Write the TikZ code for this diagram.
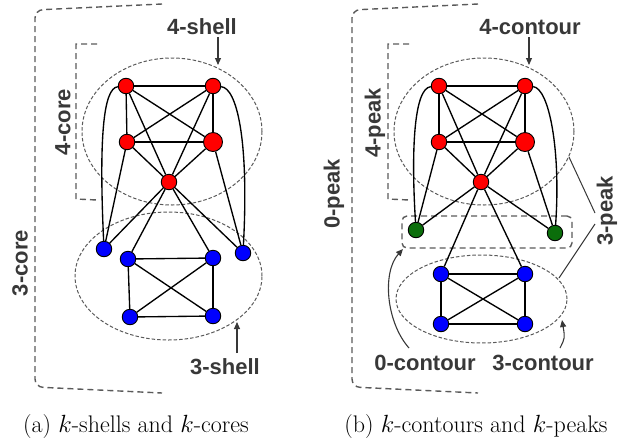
\documentclass[tikz,border=0pt]{standalone}
\usepackage{fontspec}
\setsansfont{Liberation Sans}
\usetikzlibrary{arrows.meta,shapes.geometric}
\definecolor{lbl}{HTML}{383838}
\definecolor{dsh}{HTML}{5A5A5A}
\definecolor{vred}{HTML}{FF0000}
\definecolor{vblue}{HTML}{0000FF}
\definecolor{vgreen}{HTML}{0B6E0B}
\tikzset{
  vtx/.style={circle,draw=black,line width=0.9pt,inner sep=0pt,minimum size=15.5pt},
  rv/.style={vtx,fill=vred},
  rvbig/.style={vtx,fill=vred,minimum size=19pt},
  bv/.style={vtx,fill=vblue},
  gv/.style={vtx,fill=vgreen},
  edgeline/.style={line width=1.35pt,black},
  ellline/.style={draw=dsh,line width=1pt,dash pattern=on 3.5pt off 2pt},
  brk/.style={draw=dsh,line width=1.4pt,dash pattern=on 6pt off 4pt},
  lab/.style={font=\sffamily\bfseries\fontsize{22}{24}\selectfont,text=lbl,inner sep=0pt},
  captxt/.style={font=\fontsize{24}{28}\selectfont,inner sep=0pt,anchor=base},
  arr/.style={draw=lbl,line width=1.1pt,-{Triangle[width=6pt,length=7pt]}},
  pinline/.style={draw=lbl,line width=1pt}
}
\begin{document}
\begin{tikzpicture}[x=1pt,y=-1pt]
\useasboundingbox (0,0) rectangle (624,437);
% ---------- panel (a) ----------
\draw[brk,rounded corners=8pt] (162,4) -- (35,10) -- (35,387) -- (162,393);
\draw[brk] (97,44) -- (76,44) -- (76,199) -- (97,200);
\node[lab,rotate=90] (c4) at (63,122) {4-core};
\node[lab,rotate=90] (c3) at (20,263) {3-core};
\node[ellline,ellipse,minimum width=180pt,minimum height=147pt,inner sep=0pt] (e4a) at (172,131.5) {};
\node[ellline,ellipse,minimum width=187pt,minimum height=128pt,inner sep=0pt] (e3a) at (168.5,276) {};
\node[lab] (s4) at (202,27) {4-shell};
\coordinate (s4a) at (218,37);
\coordinate (s4b) at (218,65);
\draw[arr] (s4a) -- (s4b);
\node[lab] (s3) at (225,367) {3-shell};
\coordinate (s3a) at (237,353);
\coordinate (s3b) at (237,322);
\draw[arr] (s3a) -- (s3b);
% nodes
\node[rv] (a1) at (126,86) {};
\node[rv] (a2) at (213,86) {};
\node[rv] (a3) at (127,142) {};
\node[rvbig] (a4) at (213,142) {};
\node[rv] (a5) at (169,182) {};
\node[bv] (ab1) at (104,249) {};
\node[bv] (ab2) at (128,259) {};
\node[bv] (ab3) at (213,258) {};
\node[bv] (ab4) at (243,253) {};
\node[bv] (ab5) at (130,317) {};
\node[bv] (ab6) at (213,316) {};
% edges
\foreach \u/\v in {a1/a2,a1/a3,a1/a4,a1/a5,a2/a3,a2/a4,a2/a5,a3/a4,a3/a5,a4/a5,
  a3/ab1,a5/ab1,a4/ab4,a5/ab4,a5/ab2,a5/ab3,
  ab2/ab3,ab2/ab5,ab3/ab6,ab5/ab6,ab2/ab6,ab3/ab5}
  \draw[edgeline] (\u) -- (\v);
\draw[edgeline] (a1) .. controls (103,88) and (99,140) .. (ab1);
\draw[edgeline] (a2) .. controls (237,88) and (249,140) .. (ab4);
% ---------- panel (b) ----------
\draw[brk,rounded corners=8pt] (478,4) -- (352,10) -- (352,387) -- (478,393);
\draw[brk] (409,44) -- (388,44) -- (388,199) -- (409,200);
\node[lab,rotate=90] (p4) at (375,123) {4-peak};
\node[lab,rotate=90] (p0) at (334,194) {0-peak};
\node[lab,rotate=90] (p3) at (607,211) {3-peak};
\node[ellline,ellipse,minimum width=180pt,minimum height=147pt,inner sep=0pt] (e4b) at (484,131.5) {};
\node[ellline,ellipse,minimum width=171pt,minimum height=88pt,inner sep=0pt] (e3b) at (481.5,299) {};
\node[brk,draw,rounded corners=5pt,minimum width=170pt,minimum height=32pt,inner sep=0pt] (r0) at (487,232) {};
\node[lab] (t4) at (530,27) {4-contour};
\coordinate (t4a) at (529,37);
\coordinate (t4b) at (529,65);
\draw[arr] (t4a) -- (t4b);
\node[lab] (t0) at (425,363) {0-contour};
\node[lab] (t3) at (543,363) {3-contour};
\coordinate (t0a) at (409,348);
\coordinate (t0b) at (403,249);
\draw[arr] (t0a) .. controls (386,322) and (382,272) .. (t0b);
\coordinate (t3a) at (560,348);
\coordinate (t3b) at (562,320);
\draw[arr] (t3a) .. controls (565,338) .. (t3b);
\coordinate (p3u) at (595,213);
\coordinate (p3d) at (595,224);
\coordinate (p3e1) at (569,157);
\coordinate (p3e2) at (559,278);
\draw[pinline] (p3e1) -- (p3u);
\draw[pinline] (p3d) -- (p3e2);
% nodes
\node[rv] (b1) at (439,86) {};
\node[rv] (b2) at (525,86) {};
\node[rv] (b3) at (439,142) {};
\node[rvbig] (b4) at (525,142) {};
\node[rv] (b5) at (481,182) {};
\node[gv] (g1) at (416,230) {};
\node[gv] (g2) at (555,233) {};
\node[bv] (bb1) at (441,274) {};
\node[bv] (bb2) at (525,274) {};
\node[bv] (bb3) at (441,324) {};
\node[bv] (bb4) at (525,324) {};
\foreach \u/\v in {b1/b2,b1/b3,b1/b4,b1/b5,b2/b3,b2/b4,b2/b5,b3/b4,b3/b5,b4/b5,
  b3/g1,b5/g1,b4/g2,b5/g2,b5/bb1,b5/bb2,
  bb1/bb2,bb1/bb3,bb2/bb4,bb3/bb4,bb1/bb4,bb2/bb3}
  \draw[edgeline] (\u) -- (\v);
\draw[edgeline] (b1) .. controls (414,88) and (411,150) .. (g1);
\draw[edgeline] (b2) .. controls (549,88) and (561,150) .. (g2);
% captions
\node[captxt] (ca) at (136,432) {(a) $k$-shells and $k$-cores};
\node[captxt] (cb) at (476,432) {(b) $k$-contours and $k$-peaks};
\end{tikzpicture}
\end{document}
